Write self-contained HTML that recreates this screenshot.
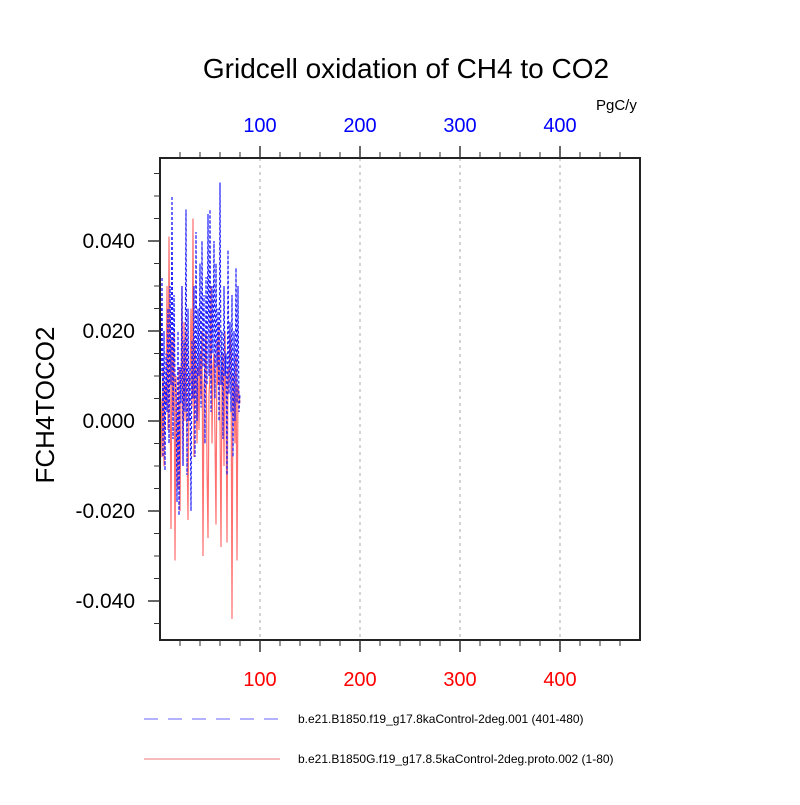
<!DOCTYPE html>
<html><head><meta charset="utf-8"><style>
body{margin:0;background:#fff;}
svg{font-family:"Liberation Sans",sans-serif;}
</style></head><body>
<svg id="chart" width="800" height="800" xmlns="http://www.w3.org/2000/svg">
<text x="406" y="78" font-size="28" text-anchor="middle">Gridcell oxidation of CH4 to CO2</text>
<text x="596" y="110" font-size="15">PgC/y</text>
<text x="0" y="0" font-size="26" text-anchor="middle" transform="translate(54,405) rotate(-90)">FCH4TOCO2</text>
<g id="grid"></g><g id="series"></g><g id="axes"></g>
<g>
<line x1="144" y1="719" x2="280" y2="719" stroke="#6666ff" stroke-width="1" stroke-dasharray="14,10"/>
<text x="298" y="723" font-size="12">b.e21.B1850.f19_g17.8kaControl-2deg.001 (401-480)</text>
<line x1="144" y1="759" x2="280" y2="759" stroke="#ee7777" stroke-width="1"/>
<text x="298" y="763" font-size="12">b.e21.B1850G.f19_g17.8.5kaControl-2deg.proto.002 (1-80)</text>
</g>
</svg>
<script>
const xTicks=[100,200,300,400];
const yTicks=[0.04,0.02,0,-0.02,-0.04];
const yTickLabels=["0.040","0.020","0.000","-0.020","-0.040"];
const blueVals=[0.010,0.032,-0.008,0.020,-0.011,0.015,0.002,0.025,-0.005,0.030,0.008,0.050,-0.004,0.028,0.010,0.005,-0.018,0.020,-0.021,0.012,0.004,0.030,-0.010,0.018,0.002,0.047,-0.012,0.025,0.000,0.012,-0.020,0.018,0.005,0.030,-0.008,0.042,0.000,0.025,0.010,0.035,0.003,0.040,0.012,0.028,-0.005,0.032,0.008,0.046,0.010,0.047,0.002,0.030,0.015,0.040,0.005,0.035,0.012,0.025,0.000,0.053,0.008,0.020,-0.004,0.030,0.010,0.015,-0.012,0.038,0.006,0.022,0.002,0.028,-0.008,0.020,0.000,0.034,0.004,0.030,0.002,0.006];
const redVals=[0.005,-0.008,0.012,-0.010,0.008,0.004,0.030,-0.002,0.041,0.010,-0.024,0.018,0.002,0.020,-0.031,0.010,0.000,-0.015,0.012,-0.020,0.005,0.030,-0.010,0.022,0.000,0.020,-0.005,-0.022,0.010,0.008,0.025,0.003,0.045,-0.008,0.018,0.010,-0.005,0.012,-0.002,0.015,0.005,0.020,-0.030,0.008,0.012,0.020,-0.010,-0.026,0.006,0.010,0.030,-0.005,0.012,0.015,-0.004,-0.023,0.018,0.008,0.022,0.000,-0.028,0.010,0.015,-0.010,0.020,0.005,-0.027,0.012,0.008,0.020,0.015,-0.044,0.010,0.005,-0.005,0.015,-0.031,0.008,0.006,0.004];
const L=160,R=640,T=158,B=640;
function xs(v){return L+(v-0)*(R-L)/480;}
function ys(v){return 421-v*4500;}
const NS="http://www.w3.org/2000/svg";
function mk(tag,attrs,parent){const e=document.createElementNS(NS,tag);for(const k in attrs)e.setAttribute(k,attrs[k]);parent.appendChild(e);return e;}
const grid=document.getElementById('grid'),axes=document.getElementById('axes'),ser=document.getElementById('series');
xTicks.forEach(t=>{const g=mk('line',{x1:xs(t),x2:xs(t),y1:T,y2:B,stroke:'#aaa','stroke-width':1,'stroke-dasharray':'3,4'},grid);

});
function drawSeries(vals,color,dash,name){
 let d='';vals.forEach((v,i)=>{d+=(i?'L':'M')+xs(i+1).toFixed(1)+','+ys(v).toFixed(1);});
 const p=mk('path',{d:d,fill:'none',stroke:color,'stroke-width':1.2},ser);
 if(dash)p.setAttribute('stroke-dasharray',dash);
 
 
}
drawSeries(redVals,'#ff7070',null,'series-red-line');
drawSeries(blueVals,'#2020ff','3,2','series-blue-line');
const frame=mk('rect',{x:L,y:T,width:R-L,height:B-T,fill:'none',stroke:'#222','stroke-width':2},axes);


for(let v=20;v<480;v+=20){const maj=v%100===0;const len=maj?12:6;
 mk('line',{x1:xs(v),x2:xs(v),y1:B,y2:B+len,stroke:'#333','stroke-width':maj?1.5:1},axes);
 mk('line',{x1:xs(v),x2:xs(v),y1:T,y2:T-len,stroke:'#333','stroke-width':maj?1.5:1},axes);}
xTicks.forEach(t=>{
 const a=mk('text',{x:xs(t),y:B+46,'font-size':20,fill:'#ff0000','text-anchor':'middle'},axes);a.textContent=t;
 
 
 const b=mk('text',{x:xs(t),y:T-26,'font-size':20,fill:'#0000ff','text-anchor':'middle'},axes);b.textContent=t;
 
 });
for(let k=-9;k<=11;k++){const v=k*0.005;const y=ys(v);if(y<T||y>B)continue;const maj=k%4===0;
 mk('line',{x1:L,x2:L-(maj?12:6),y1:y,y2:y,stroke:'#333','stroke-width':maj?1.5:1},axes);}
yTicks.forEach((t,i)=>{const a=mk('text',{x:L-25,y:ys(t)+7,'font-size':21,'text-anchor':'end'},axes);a.textContent=yTickLabels[i];
 
 });
</script>
</body></html>
